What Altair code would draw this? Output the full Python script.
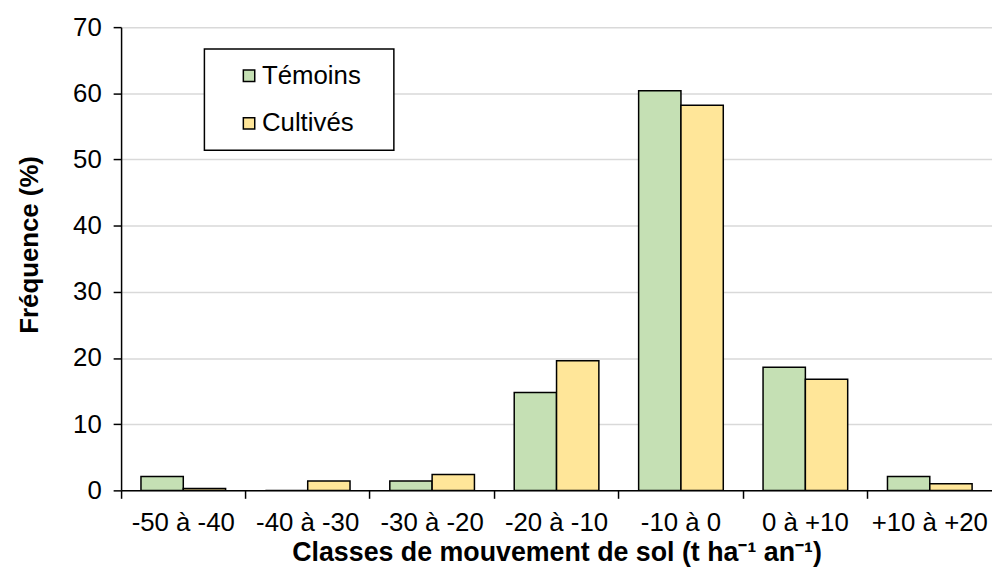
import altair as alt
import pandas as pd

classes = ["-50 à -40", "-40 à -30", "-30 à -20", "-20 à -10", "-10 à 0", "0 à +10", "+10 à +20"]
series = ["Témoins", "Cultivés"]
temoins = [2.1, 0.0, 1.4, 14.8, 60.4, 18.6, 2.1]
cultives = [0.3, 1.4, 2.4, 19.6, 58.2, 16.8, 1.0]
colors = ["#C5E0B4", "#FFE699"]
y_ticks = [0, 10, 20, 30, 40, 50, 60, 70]

rows = []
for c, t, v in zip(classes, temoins, cultives):
    rows.append({"classe": c, "serie": series[0], "freq": t})
    rows.append({"classe": c, "serie": series[1], "freq": v})
df = pd.DataFrame(rows)

FONT = "Liberation Sans"
PAD = "\u2800"

chart = alt.Chart(df).mark_bar(stroke="black", strokeWidth=1.5).encode(
    x=alt.X("classe:N", sort=classes,
            scale=alt.Scale(paddingInner=0, paddingOuter=0),
            axis=alt.Axis(title="Classes de mouvement de sol (t ha\u207b\u00b9 an\u207b\u00b9)",
                          labelAngle=0, bandPosition=0, tickSize=8, tickColor="black",
                          tickWidth=1.5, domainColor="black", domainWidth=1.5,
                          labelPadding=11, labelFontSize=26, labelFont=FONT,
                          labelColor="black", titleFont=FONT, titleFontSize=27,
                          titleFontWeight="bold", titleColor="black", titlePadding=5,
                          grid=False)),
    xOffset=alt.XOffset("serie:N", sort=series,
                        scale=alt.Scale(paddingOuter=0.47, paddingInner=0)),
    y=alt.Y("freq:Q", scale=alt.Scale(domain=[0, 70], nice=False),
            axis=alt.Axis(title="Fréquence (%)", values=y_ticks, tickSize=8,
                          tickColor="black", tickWidth=1.5, domainColor="black",
                          domainWidth=1.5, labelPadding=12, labelFontSize=26,
                          labelFont=FONT, labelColor="black", titleFont=FONT,
                          titleFontSize=26, titleFontWeight="bold", titleColor="black",
                          titleX=-92, titleY=219, titleBaseline="middle",
                          grid=True, gridColor="#D9D9D9", gridWidth=1.5)),
    color=alt.Color("serie:N", sort=series,
                    scale=alt.Scale(domain=series, range=colors),
                    legend=alt.Legend(title=None, orient="none", legendX=84, legendY=22,
                                      padding=14, symbolOffset=18, labelOffset=0,
                                      rowPadding=22, symbolType="square", symbolSize=132,
                                      symbolStrokeColor="black", symbolStrokeWidth=1.5,
                                      labelFont=FONT, labelFontSize=26, labelColor="black",
                                      labelLimit=400,
                                      strokeColor="black", fillColor="white",
                                      labelExpr=f"datum.label + '{PAD}'")),
).properties(
    width=878, height=467,
    autosize=alt.AutoSizeParams(type="none"),
    padding={"left": 114, "top": 17, "right": 0, "bottom": 80},
).configure_view(stroke=None).configure_legend(strokeWidth=1.5)

chart.save("out.html", embed_options={"renderer": "svg", "actions": False})
